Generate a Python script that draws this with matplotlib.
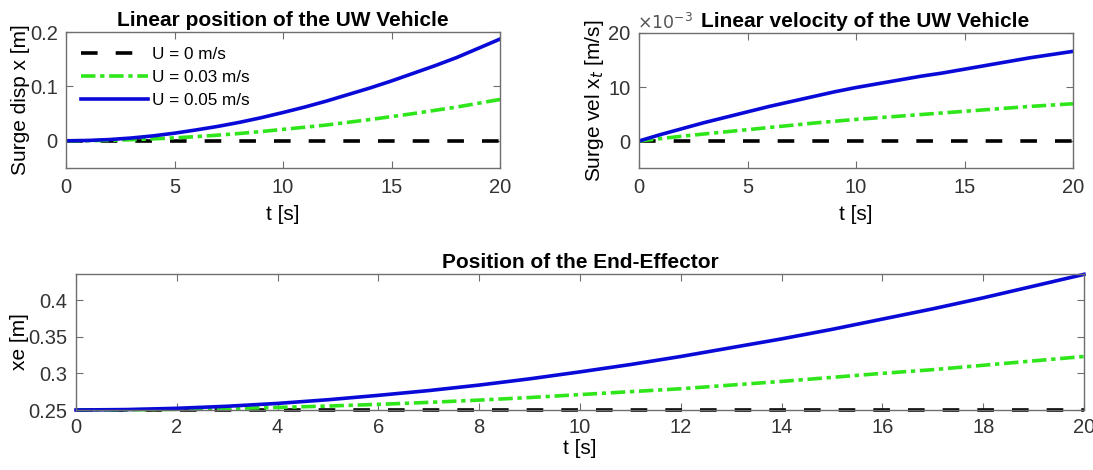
import matplotlib

matplotlib.use("Agg")
import matplotlib.pyplot as plt

plt.rcParams.update(
    {
        "font.family": ["Liberation Sans", "DejaVu Sans"],
        "font.size": 14,
        "axes.edgecolor": "#6e6e6e",
        "axes.linewidth": 1.0,
        "xtick.color": "#6e6e6e",
        "ytick.color": "#6e6e6e",
        "xtick.labelcolor": "#333333",
        "ytick.labelcolor": "#333333",
        "xtick.labelsize": 14.5,
        "ytick.labelsize": 14.5,
        "xtick.direction": "in",
        "ytick.direction": "in",
        "xtick.top": True,
        "ytick.right": True,
        "xtick.major.size": 5,
        "ytick.major.size": 5,
        "xtick.major.pad": 7,
        "ytick.major.pad": 6,
    }
)

# ---------------------------------------------------------------------------
# data
# ---------------------------------------------------------------------------
t = list(range(21))

# surge displacement [m]
disp_u0 = [0] * 21
disp_u003 = [0, 0.0002, 0.0009, 0.002, 0.0035, 0.0054, 0.0077, 0.0104, 0.0135, 0.017,
             0.021, 0.025, 0.029, 0.034, 0.039, 0.0445, 0.050, 0.056, 0.062, 0.069, 0.076]
disp_u005 = [0, 0.0006, 0.0023, 0.0051, 0.009, 0.014, 0.020, 0.0265, 0.034, 0.0425,
             0.052, 0.062, 0.073, 0.085, 0.097, 0.110, 0.124, 0.138, 0.153, 0.170, 0.187]

# surge velocity [x1e-3 m/s]
vel_u0 = [0] * 21
vel_u003 = [0, 0.45, 0.9, 1.3, 1.7, 2.1, 2.5, 2.9, 3.3, 3.65,
            4.0, 4.3, 4.6, 4.9, 5.2, 5.5, 5.8, 6.1, 6.4, 6.65, 6.9]
vel_u005 = [0, 1.2, 2.3, 3.4, 4.4, 5.4, 6.4, 7.3, 8.2, 9.1,
            9.9, 10.6, 11.3, 12.0, 12.6, 13.3, 14.0, 14.7, 15.4, 16.0, 16.6]

# end-effector position [m]
xe_u0 = [0.25] * 21
xe_u003 = [0.25, 0.2502, 0.2509, 0.252, 0.2535, 0.2554, 0.2577, 0.2604, 0.2635, 0.267,
           0.271, 0.275, 0.279, 0.284, 0.289, 0.2945, 0.300, 0.305, 0.311, 0.317, 0.323]
xe_u005 = [0.25, 0.2506, 0.2523, 0.2551, 0.259, 0.264, 0.270, 0.2765, 0.284, 0.2925,
           0.302, 0.312, 0.323, 0.335, 0.347, 0.360, 0.374, 0.388, 0.403, 0.419, 0.435]

labels = ["U = 0 m/s", "U = 0.03 m/s", "U = 0.05 m/s"]

# ---------------------------------------------------------------------------
# styling
# ---------------------------------------------------------------------------
W, H = 1093, 470
styles = [
    dict(color="black", lw=2.6, ls=(0, (4.6, 5.0))),
    dict(color="#2fe61a", lw=2.6, ls=(0, (4.0, 1.3, 1.2, 1.3))),
    dict(color="#0a0ad8", lw=2.6, ls="-"),
]
title_kw = dict(fontsize=15, fontweight="bold", pad=4)


def rect(x0, y0, x1, y1):
    return [x0 / W, 1 - y1 / H, (x1 - x0) / W, (y1 - y0) / H]


fig = plt.figure(figsize=(W / 100, H / 100), dpi=100)

# ── top-left: linear position ───────────────────────────────────────────
ax1 = fig.add_axes(rect(66, 32, 500, 168))
for y, st, lab in zip([disp_u0, disp_u003, disp_u005], styles, labels):
    ax1.plot(t, y, label=lab, **st)
ax1.set_xlim(0, 20)
ax1.set_ylim(-0.05, 0.2)
ax1.set_xticks([0, 5, 10, 15, 20])
ax1.set_yticks([0, 0.1, 0.2])
ax1.set_yticklabels(["0", "0.1", "0.2"])
ax1.set_xlabel("t [s]", fontsize=15, labelpad=6)
ax1.set_ylabel("Surge disp x [m]", fontsize=15, labelpad=0)
ax1.set_title("Linear position of the UW Vehicle", **title_kw)
ax1.legend(loc="upper left", frameon=False, fontsize=12.3, handlelength=3.9,
           handletextpad=0.25, labelspacing=0.45, borderaxespad=0.5,
           borderpad=0.4)

# ── top-right: linear velocity ──────────────────────────────────────────
ax2 = fig.add_axes(rect(639, 33, 1073, 168))
for y, st in zip([vel_u0, vel_u003, vel_u005], styles):
    ax2.plot(t, y, **st)
ax2.set_xlim(0, 20)
ax2.set_ylim(-5, 20)
ax2.set_xticks([0, 5, 10, 15, 20])
ax2.set_yticks([0, 10, 20])
ax2.set_xlabel("t [s]", fontsize=15, labelpad=6)
ax2.set_ylabel("Surge vel x$_t$ [m/s]", fontsize=15, labelpad=2)
ax2.set_title("Linear velocity of the UW Vehicle", x=0.52, **title_kw)
ax2.text(-0.005, 1.01, r"$\times10^{-3}$", transform=ax2.transAxes,
         ha="left", va="bottom", fontsize=12.5, color="#555555")

# ── bottom: end-effector position ───────────────────────────────────────
ax3 = fig.add_axes(rect(76, 274, 1084, 410))
for y, st in zip([xe_u0, xe_u003, xe_u005], styles):
    ax3.plot(t, y, clip_on=False, **st)
ax3.set_xlim(0, 20)
ax3.set_ylim(0.25, 0.4355)
ax3.set_xticks(list(range(0, 21, 2)))
ax3.set_yticks([0.25, 0.3, 0.35, 0.4])
ax3.set_yticklabels(["0.25", "0.3", "0.35", "0.4"])
ax3.tick_params(axis="x", pad=6)
ax3.set_xlabel("t [s]", fontsize=15, labelpad=1)
ax3.set_ylabel("xe [m]", fontsize=15, labelpad=0)
ax3.set_title("Position of the End-Effector", **title_kw)

fig.savefig("out.png", dpi=100)
plt.close(fig)
